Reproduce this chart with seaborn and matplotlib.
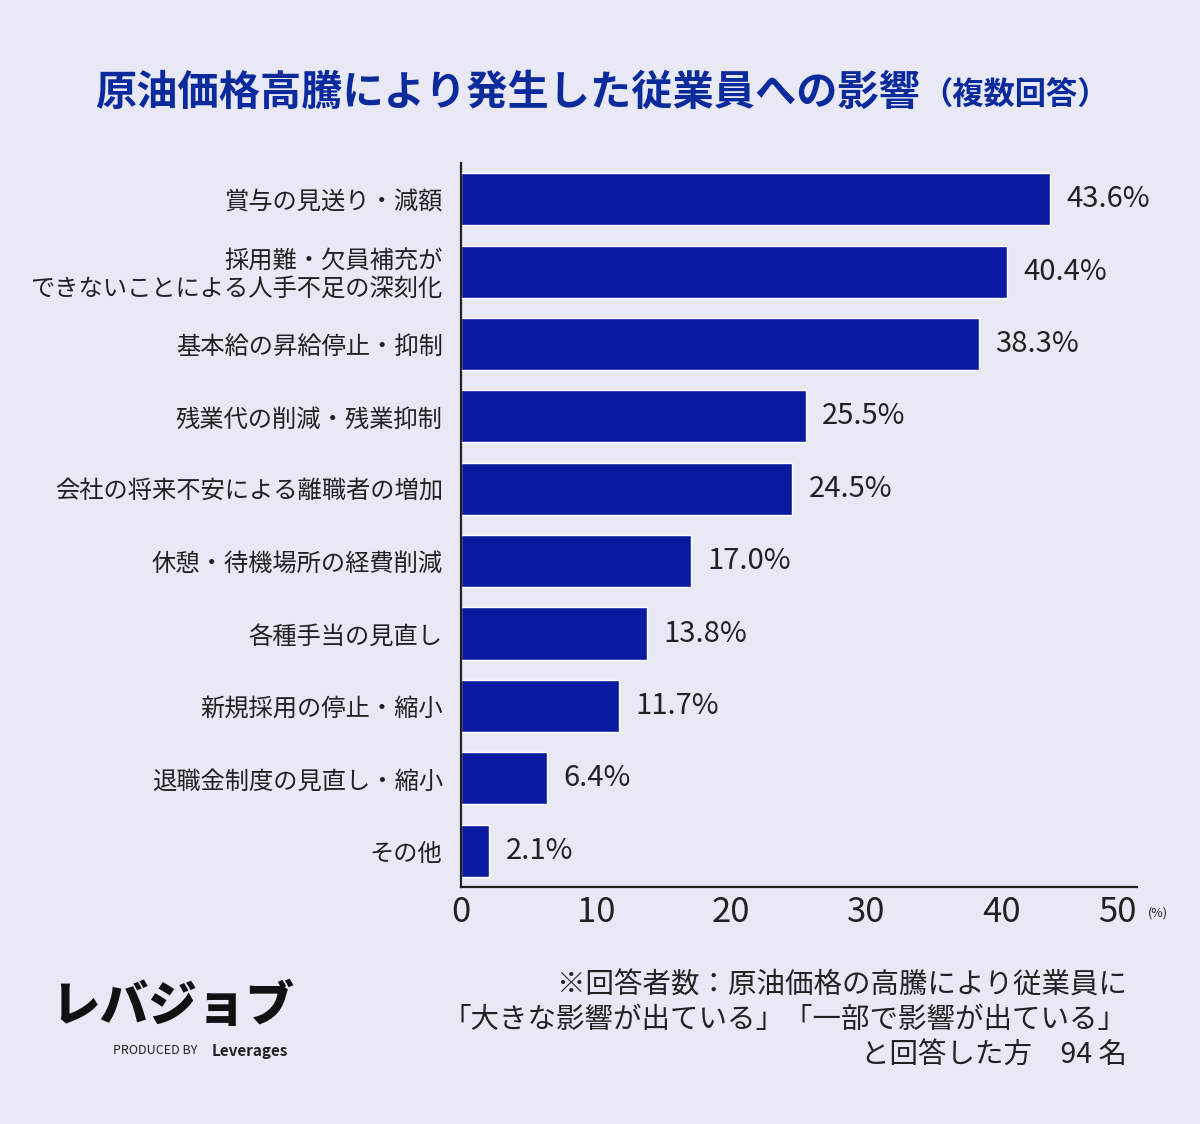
import matplotlib
matplotlib.use('Agg')
import matplotlib.pyplot as plt
import seaborn as sns
import pandas as pd

categories = [
    '賞与の見送り・減額',
    '採用難・欠員補充が\nできないことによる人手不足の深刻化',
    '基本給の昇給停止・抑制',
    '残業代の削減・残業抑制',
    '会社の将来不安による離職者の増加',
    '休憩・待機場所の経費削減',
    '各種手当の見直し',
    '新規採用の停止・縮小',
    '退職金制度の見直し・縮小',
    'その他',
]
values = [43.6, 40.4, 38.3, 25.5, 24.5, 17.0, 13.8, 11.7, 6.4, 2.1]
x_ticks = [0, 10, 20, 30, 40, 50]

BG = '#E8E9F5'
BAR = '#0A1AA0'
NAVY = '#0B2A9C'
INK = '#222222'

sns.set_theme(style='white')
plt.rcParams['font.family'] = ['Noto Sans CJK JP', 'DejaVu Sans']

df = pd.DataFrame({'item': categories, 'pct': values})

fig = plt.figure(figsize=(12, 11.24), dpi=100, facecolor=BG)
ax = fig.add_axes([0.384, 0.2109, 0.5635, 0.6441])
ax.set_facecolor(BG)

sns.barplot(data=df, x='pct', y='item', orient='h', color=BAR,
            saturation=1, width=0.72, ax=ax)

ax.set_xlim(0, 50)
ax.set_ylim(9.5, -0.5)
ax.set_xticks(x_ticks)
ax.set_xticklabels([str(t) for t in x_ticks], fontsize=25, color=INK)
ax.get_xticklabels()[-1].set_ha('right')
ax.tick_params(axis='x', length=0, pad=6)
ax.tick_params(axis='y', length=0, pad=13)
for lbl in ax.get_yticklabels():
    lbl.set_fontsize(17.5)
    lbl.set_color(INK)
    lbl.set_linespacing(1.05)
ax.set_xlabel('')
ax.set_ylabel('')
for s in ['top', 'right']:
    ax.spines[s].set_visible(False)
for s in ['left', 'bottom']:
    ax.spines[s].set_color('#222222')
    ax.spines[s].set_linewidth(1.6)

for i, v in enumerate(values):
    ax.text(v + 1.2, i, f'{v:.1f}%', va='center', ha='left', fontsize=21, color=INK)

ax.text(50.8, -0.036, '(%)', transform=ax.get_xaxis_transform(), fontsize=9,
        color=INK, ha='left', va='center')

# title
fig.text(0.079, 0.917, '原油価格高騰により発生した従業員への影響', fontsize=29.7,
         fontweight='bold', color=NAVY, ha='left', va='center')
fig.text(0.768, 0.915, '（複数回答）', fontsize=22.5, fontweight='bold',
         color=NAVY, ha='left', va='center')

# footnote
fig.text(0.939, 0.0925, '※回答者数：原油価格の高騰により従業員に\n「大きな影響が出ている」「一部で影響が出ている」\nと回答した方　94 名',
         fontsize=20.5, color=INK, ha='right', va='center', multialignment='right',
         linespacing=1.2)

# logo
fig.text(0.043, 0.104, 'レバジョブ', fontsize=35, fontweight='black', style='italic',
         color='#111111', ha='left', va='center')
fig.text(0.094, 0.065, 'PRODUCED BY', fontsize=9, color='#222222', ha='left', va='center')
fig.text(0.176, 0.065, 'Leverages', fontsize=11, fontweight='bold', color='#222222',
         ha='left', va='center')

fig.savefig('out.png', dpi=100, facecolor=BG)
